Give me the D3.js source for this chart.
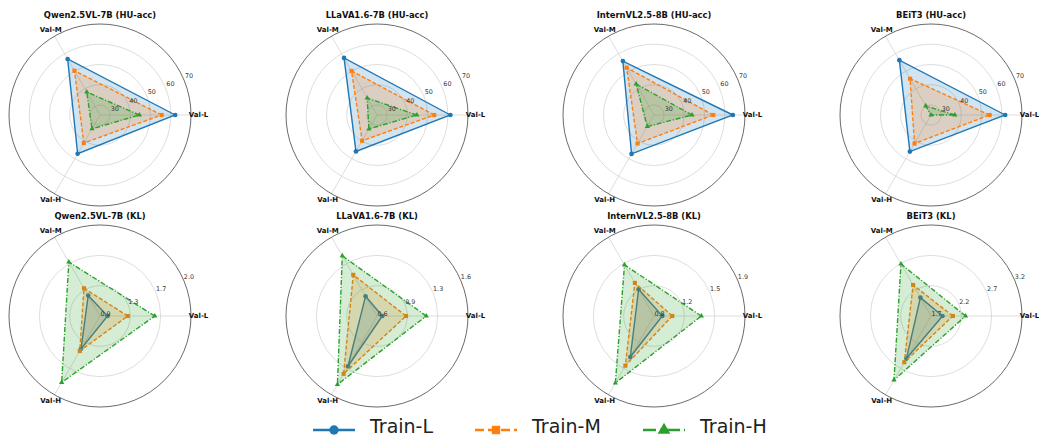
<!DOCTYPE html>
<html>
<head>
<meta charset="utf-8">
<script src="https://cdn.jsdelivr.net/npm/d3@7"></script>
<style>
  body { margin: 0; background: #fff; }
  svg { font-family: 'DejaVu Sans', sans-serif; }
</style>
</head>
<body>
<div id="chart"></div>
<script>
const models = ['Qwen2.5VL-7B', 'LLaVA1.6-7B', 'InternVL2.5-8B', 'BEiT3'];
const metrics = ['HU-acc', 'KL'];
const valLabels = ['Val-L', 'Val-M', 'Val-H'];
const seriesNames = ['Train-L', 'Train-M', 'Train-H'];

// HU-acc, one row per model: [Val-L, Val-M, Val-H]
const huTrainL = [[62.2, 57.0, 47.1], [61.3, 57.6, 45.8], [64.0, 55.8, 47.2], [61.7, 56.3, 45.9]];
const huTrainM = [[55.5, 50.3, 41.0], [53.3, 50.2, 39.7], [54.3, 52.0, 41.3], [54.0, 45.7, 41.3]];
const huTrainH = [[44.5, 38.1, 32.9], [44.7, 34.7, 33.0], [43.8, 42.7, 31.6], [36.8, 30.2, 25.0]];

// KL
const klTrainL = [[1.03, 1.22, 1.39], [0.64, 0.84, 1.24], [0.90, 1.17, 1.37], [1.89, 2.05, 2.51]];
const klTrainM = [[1.27, 1.32, 1.42], [0.91, 1.12, 1.34], [1.02, 1.26, 1.49], [2.06, 2.29, 2.58]];
const klTrainH = [[1.59, 1.68, 1.85], [1.14, 1.37, 1.48], [1.37, 1.51, 1.73], [2.27, 2.69, 2.92]];

// radial axes
const huDomain = [25, 70];
const huTicks = [30, 40, 50, 60, 70];
const klDomains = [[0.94, 2.02], [0.58, 1.615], [0.8, 1.895], [1.7, 3.2]];
const klTickLabels = [['0.9', '1.3', '1.7', '2.0'], ['0.6', '0.9', '1.3', '1.6'], ['0.8', '1.2', '1.5', '1.9'], ['1.7', '2.2', '2.7', '3.2']];

const width = 1039;
const height = 438;
const R = 91;
const colors = ['#1f77b4', '#ff7f0e', '#2ca02c'];
const dashes = [null, '4,2', '5,1.8,1.2,1.8'];

const svg = d3.select('#chart')
    .append('svg')
    .attr('width', width)
    .attr('height', height);

const cx = d3.scalePoint().domain(models).range([100, 931]);
const cy = d3.scalePoint().domain(metrics).range([115, 316]);
const angle = d3.scalePoint().domain(valLabels).range([0, 4 * Math.PI / 3]);

function symbolFor(k, size) {
    const types = [d3.symbolCircle, d3.symbolSquare, d3.symbolTriangle];
    return d3.symbol().type(types[k]).size(size)();
}

metrics.forEach(metric => {
    models.forEach((model, i) => {
        const isHU = metric === 'HU-acc';
        const dom = isHU ? huDomain : klDomains[i];
        const r = d3.scaleLinear().domain(dom).range([0, R]);
        const ticks = isHU
            ? huTicks.map(t => ({label: String(t), rad: r(t)}))
            : klTickLabels[i].map((t, k) => ({label: t, rad: k * R / (klTickLabels[i].length - 1)}));
        const series = isHU
            ? [huTrainL[i], huTrainM[i], huTrainH[i]]
            : [klTrainL[i], klTrainM[i], klTrainH[i]];

        const g = svg.append('g')
            .attr('transform', `translate(${cx(model)},${cy(metric)})`);

        // grid circles
        g.selectAll('circle.grid')
            .data(ticks.filter(t => t.rad > 0.5 && t.rad < R - 0.5))
            .enter()
            .append('circle')
            .attr('class', 'grid')
            .attr('r', d => d.rad)
            .attr('fill', 'none')
            .attr('stroke', '#cfcfcf')
            .attr('stroke-width', 0.7);

        // spokes
        g.selectAll('line.spoke')
            .data(valLabels)
            .enter()
            .append('line')
            .attr('x2', d => R * Math.cos(angle(d)))
            .attr('y2', d => -R * Math.sin(angle(d)))
            .attr('stroke', '#cfcfcf')
            .attr('stroke-width', 0.7);

        // outer spine
        g.append('circle')
            .attr('r', R)
            .attr('fill', 'none')
            .attr('stroke', '#444')
            .attr('stroke-width', 0.8);

        const line = d3.line()
            .x((d, j) => r(d) * Math.cos(angle(valLabels[j])))
            .y((d, j) => -r(d) * Math.sin(angle(valLabels[j])))
            .curve(d3.curveLinearClosed);

        series.forEach((vals, k) => {
            g.append('path')
                .datum(vals)
                .attr('d', line)
                .attr('fill', colors[k])
                .attr('fill-opacity', 0.2)
                .attr('stroke', colors[k])
                .attr('stroke-width', 1.4)
                .attr('stroke-dasharray', dashes[k]);

            g.selectAll(`path.m${k}`)
                .data(vals)
                .enter()
                .append('path')
                .attr('class', `m${k}`)
                .attr('d', symbolFor(k, k === 2 ? 12 : 17))
                .attr('transform', (d, j) => `translate(${r(d) * Math.cos(angle(valLabels[j]))},${-r(d) * Math.sin(angle(valLabels[j]))})`)
                .attr('fill', colors[k]);
        });

        // radial tick labels
        const la = 23.5 * Math.PI / 180;
        g.selectAll('text.tick')
            .data(ticks)
            .enter()
            .append('text')
            .attr('x', d => (d.rad + 6) * Math.cos(la))
            .attr('y', d => -(d.rad + 6) * Math.sin(la))
            .attr('text-anchor', 'middle')
            .attr('dominant-baseline', 'central')
            .attr('font-size', 6.4)
            .attr('fill', '#333')
            .text(d => d.label);

        // axis labels
        g.selectAll('text.val')
            .data(valLabels)
            .enter()
            .append('text')
            .attr('x', d => 98.5 * Math.cos(angle(d)))
            .attr('y', d => -98.5 * Math.sin(angle(d)))
            .attr('text-anchor', 'middle')
            .attr('dominant-baseline', 'central')
            .attr('font-size', 7)
            .attr('font-weight', 'bold')
            .attr('fill', '#111')
            .text(d => d);

        g.append('text')
            .attr('y', -97)
            .attr('text-anchor', 'middle')
            .attr('font-size', 8.4)
            .attr('font-weight', 'bold')
            .attr('fill', '#111')
            .text(`${model} (${metric})`);
    });
});

// legend
const legendX = [313, 475, 643];
const legendDash = [null, '9,4', '13,4,3,4'];
const legend = svg.append('g')
    .attr('transform', 'translate(0,430)');

seriesNames.forEach((name, k) => {
    const item = legend.append('g')
        .attr('transform', `translate(${legendX[k]},0)`);
    item.append('line')
        .attr('x1', 0)
        .attr('x2', 42)
        .attr('stroke', colors[k])
        .attr('stroke-width', 2.6)
        .attr('stroke-dasharray', legendDash[k]);
    item.append('path')
        .attr('d', symbolFor(k, 70))
        .attr('transform', 'translate(21,0)')
        .attr('fill', colors[k]);
    item.append('text')
        .attr('x', 57)
        .attr('y', 3)
        .attr('font-size', 19)
        .attr('fill', '#222')
        .text(name);
});
</script>
</body>
</html>
